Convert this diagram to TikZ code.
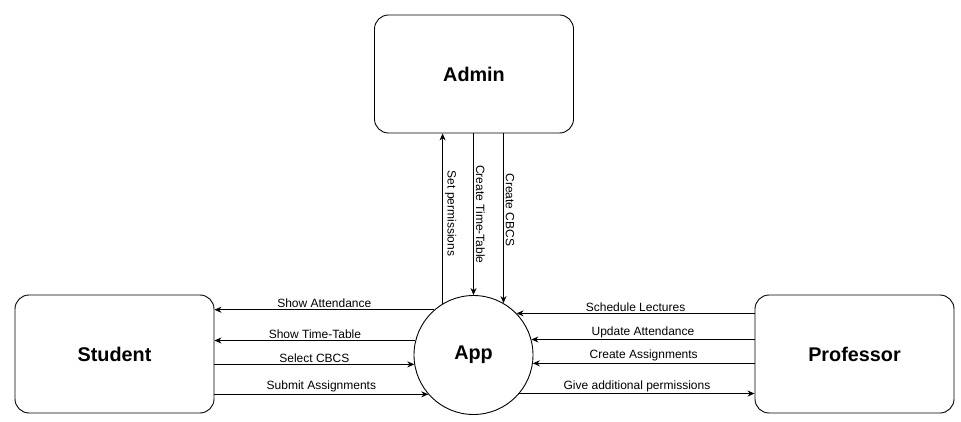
\documentclass[tikz,border=0pt]{standalone}
\usepackage{fontspec}
\setmainfont{Liberation Sans}
\usetikzlibrary{arrows.meta}
\begin{document}
\begin{tikzpicture}[x=1pt,y=-1pt,
  entity/.style={draw, line width=0.9pt, rounded corners=14pt, minimum width=199pt, minimum height=118pt, inner sep=0pt, font=\fontsize{19.8}{22}\selectfont\bfseries},
  proc/.style={draw, line width=0.9pt, circle, minimum size=119pt, inner sep=0pt, font=\fontsize{19.8}{22}\selectfont\bfseries},
  arr/.style={-{Stealth[length=7pt,width=6pt]}, line width=0.8pt},
  lbl/.style={font=\fontsize{12}{14}\selectfont, inner sep=1.5pt},
  vlbl/.style={font=\fontsize{12}{14}\selectfont, inner sep=2pt, rotate=-90, anchor=south}]
\useasboundingbox (0,0) rectangle (961,422);
\node[entity] (admin) at (474,74) {Admin};
\node[entity] (student) at (114.5,354) {Student};
\node[entity] (prof) at (854.5,354) {Professor};
\node[proc] (app) at (473.5,355) {App};
% vertical
\draw[arr] (app.121.1) -- (app.121.1 |- admin.south) node[pos=0.53, vlbl] {Set permissions};
\draw[arr] (app.90 |- admin.south) -- (app.90) node[pos=0.5, vlbl] {Create Time-Table};
\draw[arr] (app.60 |- admin.south) -- (app.60) node[pos=0.45, vlbl] {Create CBCS};
% left
\draw[arr] (app.131.8) -- (app.131.8 -| student.east) node[midway, above, lbl] {Show Attendance};
\draw[arr] (app.166.3) -- (app.166.3 -| student.east) node[midway, above, lbl] {Show Time-Table};
\draw[arr] (app.189.8 -| student.east) -- (app.189.8) node[midway, above, lbl] {Select CBCS};
\draw[arr] (app.221.4 -| student.east) -- (app.221.4) node[midway, above, lbl] {Submit Assignments};
% right
\draw[arr] (app.44 -| prof.west) -- (app.44) node[midway, above, lbl] {Schedule Lectures};
\draw[arr] (app.15.7 -| prof.west) -- (app.15.7) node[midway, above, lbl] {Update Attendance};
\draw[arr] (app.-8.8 -| prof.west) -- (app.-8.8) node[midway, above, lbl] {Create Assignments};
\draw[arr] (app.-40.1) -- (app.-40.1 -| prof.west) node[midway, above, lbl] {Give additional permissions};
\end{tikzpicture}
\end{document}
